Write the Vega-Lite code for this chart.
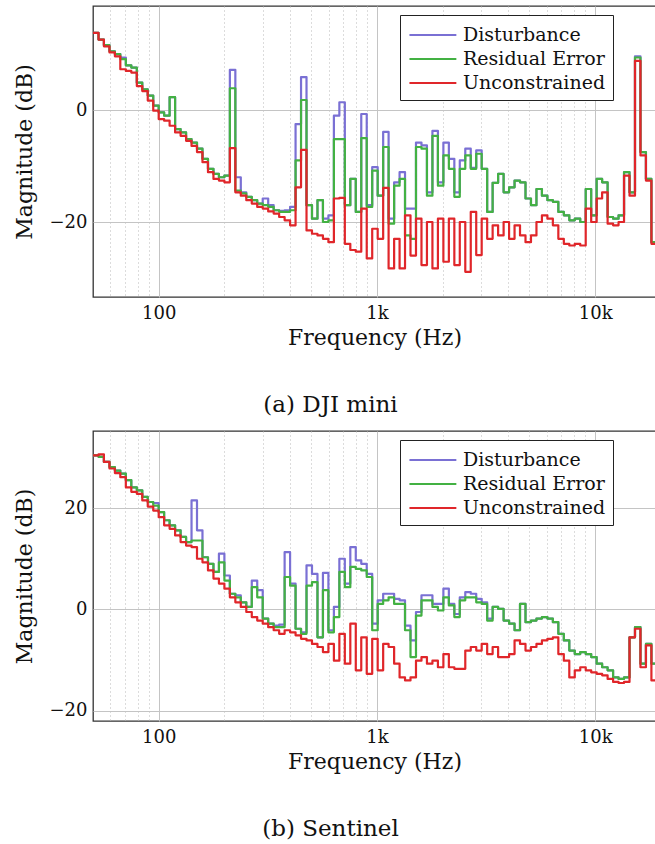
{
"$schema": "https://vega.github.io/schema/vega-lite/v6.json",
"padding": {"left": 12, "top": 5, "right": 0, "bottom": 0},
"spacing": 12,
"config": {
  "font": "DejaVu Serif",
  "view": {"stroke": "#333", "strokeWidth": 1.3},
  "axis": {"labelFont": "DejaVu Serif", "titleFont": "DejaVu Serif", "labelFontSize": 18, "titleFontSize": 22, "titleFontWeight": "normal", "labelColor": "#111", "titleColor": "#111", "ticks": false, "domain": false, "gridColor": "#c4c4c4", "gridWidth": 1},
  "legend": {"orient": "none", "legendX": 307, "legendY": 9, "title": null, "symbolType": "M-0.9,0H3.1", "symbolStrokeWidth": 2, "symbolSize": 550, "labelFont": "DejaVu Serif", "labelFontSize": 19, "labelColor": "#111", "strokeColor": "#222", "fillColor": "white", "padding": 7, "labelOffset": 30, "rowPadding": 1},
  "title": {"font": "DejaVu Serif", "fontSize": 23, "fontWeight": "normal", "color": "#111"}
},
"resolve": {"legend": {"color": "independent"}, "scale": {"y": "independent"}},
"datasets": {
"dji": [
{"f":50,"D":13.8,"R":13.8,"U":13.8},{"f":53,"D":12.6,"R":12.6,"U":12.6},{"f":56.1,"D":11.6,"R":11.6,"U":11.4},{"f":59.5,"D":10.5,"R":10.5,"U":10.3},{"f":63,"D":10,"R":10,"U":9.6},{"f":66.7,"D":9.4,"R":9.1,"U":7.3},{"f":70.7,"D":8,"R":8,"U":7},{"f":74.9,"D":7.6,"R":7.6,"U":6.7},{"f":79.4,"D":4.9,"R":4.9,"U":4.3},{"f":84.1,"D":3.7,"R":3.7,"U":3.4},{"f":89.1,"D":2.6,"R":2.6,"U":1.7},{"f":94.4,"D":0.8,"R":0.8,"U":-0.1},
{"f":100,"D":-0.4,"R":-0.4,"U":-1.6},{"f":105.9,"D":-1,"R":-1,"U":-1.9},{"f":112.2,"D":2.3,"R":2.3,"U":-2.8},{"f":118.9,"D":-3.4,"R":-3.4,"U":-4},{"f":126,"D":-4,"R":-4,"U":-4.6},{"f":133.5,"D":-5.2,"R":-5.2,"U":-5.5},{"f":141.4,"D":-5.8,"R":-5.8,"U":-6.4},{"f":149.8,"D":-6.9,"R":-6.9,"U":-7.5},{"f":158.7,"D":-8.7,"R":-8.7,"U":-9.3},{"f":168.2,"D":-10.5,"R":-10.5,"U":-11.1},{"f":178.2,"D":-11.4,"R":-11.4,"U":-12.3},{"f":188.8,"D":-12,"R":-12,"U":-12.6},
{"f":200,"D":-11.7,"R":-11.7,"U":-12.9},{"f":211.9,"D":7.2,"R":3.9,"U":-6.8},{"f":224.5,"D":-12,"R":-14.4,"U":-14.7},{"f":237.8,"D":-14.7,"R":-14.9,"U":-15.3},{"f":252,"D":-15.5,"R":-15.5,"U":-16.1},{"f":267,"D":-16.1,"R":-16.1,"U":-16.7},{"f":282.8,"D":-16.7,"R":-16.7,"U":-17.3},{"f":299.7,"D":-15.8,"R":-17,"U":-17.6},{"f":317.5,"D":-17,"R":-17.3,"U":-18.1},{"f":336.4,"D":-17.9,"R":-17.9,"U":-18.5},{"f":356.4,"D":-18,"R":-18.2,"U":-19.1},{"f":377.6,"D":-17.9,"R":-18.2,"U":-19.7},
{"f":400,"D":-17.3,"R":-17.9,"U":-20.6},{"f":423.8,"D":-2.5,"R":-9,"U":-13.8},{"f":449,"D":5.9,"R":1.8,"U":-7.1},{"f":475.7,"D":-17,"R":-17,"U":-21.5},{"f":504,"D":-19.4,"R":-19.4,"U":-22.1},{"f":534,"D":-16.1,"R":-16.1,"U":-22.4},{"f":565.7,"D":-19.4,"R":-20,"U":-23},{"f":599.3,"D":-18.8,"R":-19.7,"U":-23.6},{"f":635,"D":-1,"R":-5.2,"U":-15.8},{"f":672.7,"D":1.4,"R":-5.2,"U":-15.7},{"f":712.7,"D":-17,"R":-17,"U":-23.9},{"f":755.1,"D":-12.3,"R":-12.3,"U":-25},
{"f":800,"D":-18.2,"R":-18.2,"U":-25.3},{"f":847.6,"D":-0.7,"R":-5,"U":-17.6},{"f":898,"D":-17,"R":-17.3,"U":-26.5},{"f":951.4,"D":-10.2,"R":-10.8,"U":-21.2},{"f":1008,"D":-15.3,"R":-15.3,"U":-23},{"f":1068,"D":-3.9,"R":-6.6,"U":-13.9},{"f":1131,"D":-19.4,"R":-20.3,"U":-28.3},{"f":1199,"D":-12.9,"R":-13.5,"U":-23},{"f":1270,"D":-11.1,"R":-12.3,"U":-28.3},{"f":1345,"D":-17.6,"R":-22.4,"U":-18.8},{"f":1425,"D":-17.6,"R":-23,"U":-26},{"f":1510,"D":-5.8,"R":-6.6,"U":-19.4},
{"f":1600,"D":-6.3,"R":-6.9,"U":-27.7},{"f":1695,"D":-14.7,"R":-15.3,"U":-20},{"f":1796,"D":-3.7,"R":-4.6,"U":-28.3},{"f":1903,"D":-12.9,"R":-13.5,"U":-19.4},{"f":2016,"D":-5.8,"R":-8.1,"U":-27.1},{"f":2136,"D":-8.7,"R":-10.5,"U":-19.4},{"f":2263,"D":-14.7,"R":-15.5,"U":-27.7},{"f":2397,"D":-9,"R":-10.5,"U":-20},{"f":2540,"D":-6.9,"R":-8.1,"U":-28.9},{"f":2691,"D":-10.3,"R":-10.5,"U":-18.2},{"f":2851,"D":-7.2,"R":-7.8,"U":-25.9},{"f":3020,"D":-10.5,"R":-10.5,"U":-19.4},
{"f":3200,"D":-18.2,"R":-18.2,"U":-23},{"f":3390,"D":-13,"R":-13,"U":-20.6},{"f":3592,"D":-11.4,"R":-11.4,"U":-22.4},{"f":3806,"D":-14.7,"R":-14.7,"U":-20},{"f":4032,"D":-13.8,"R":-13.8,"U":-23},{"f":4272,"D":-12.6,"R":-12.6,"U":-20.6},{"f":4525,"D":-12.9,"R":-12.9,"U":-22.4},{"f":4795,"D":-15.8,"R":-15.8,"U":-23.6},{"f":5080,"D":-17,"R":-17,"U":-22.4},{"f":5382,"D":-14.1,"R":-14.1,"U":-20},{"f":5702,"D":-15.3,"R":-15.3,"U":-18.8},{"f":6041,"D":-16.1,"R":-16.1,"U":-19.4},
{"f":6400,"D":-16.4,"R":-16.4,"U":-20.6},{"f":6780,"D":-18.2,"R":-18.2,"U":-23},{"f":7184,"D":-18.8,"R":-18.8,"U":-23.9},{"f":7611,"D":-19.7,"R":-19.7,"U":-24.2},{"f":8063,"D":-19.4,"R":-19.4,"U":-23.9},{"f":8543,"D":-20,"R":-20,"U":-24.2},{"f":9051,"D":-14.1,"R":-14.1,"U":-17.6},{"f":9589,"D":-18.8,"R":-18.8,"U":-20},{"f":10159,"D":-12.3,"R":-12.3,"U":-15.8},{"f":10763,"D":-12.9,"R":-12.9,"U":-14.7},{"f":11404,"D":-19.1,"R":-19.1,"U":-20.3},{"f":12082,"D":-19.4,"R":-19.4,"U":-20.6},
{"f":12800,"D":-18.8,"R":-18.8,"U":-20},{"f":13561,"D":-11.1,"R":-11.1,"U":-11.7},{"f":14368,"D":-14.7,"R":-14.7,"U":-15.3},{"f":15222,"D":9.6,"R":9.4,"U":8.8},{"f":16127,"D":-7.5,"R":-7.5,"U":-8.1},{"f":17086,"D":-12.3,"R":-12.3,"U":-12.6},{"f":18102,"D":-23.6,"R":-23.6,"U":-23.9},{"f":19179,"D":-25,"R":-25,"U":-25.2},{"f":20319,"D":-25,"R":-25,"U":-25.2}
],
"sentinel": [
{"f":50,"D":30.4,"R":30.4,"U":30.4},{"f":53,"D":30.1,"R":30.1,"U":30.6},{"f":56.1,"D":29.1,"R":29.1,"U":29.1},{"f":59.5,"D":28.1,"R":28.1,"U":27.8},{"f":63,"D":27.4,"R":27.4,"U":26.9},{"f":66.7,"D":26.8,"R":26.8,"U":26.1},{"f":70.7,"D":25.5,"R":25.5,"U":24.1},{"f":74.9,"D":24.1,"R":24.1,"U":23.2},{"f":79.4,"D":23.5,"R":23.5,"U":22.8},{"f":84.1,"D":22.2,"R":22.2,"U":21.5},{"f":89.1,"D":21.2,"R":21.2,"U":20.3},{"f":94.4,"D":21,"R":20.5,"U":19.5},
{"f":100,"D":19.2,"R":19.2,"U":18.2},{"f":105.9,"D":17.6,"R":17.6,"U":16.6},{"f":112.2,"D":16.6,"R":16.6,"U":15.9},{"f":118.9,"D":15.6,"R":15.6,"U":14.6},{"f":126,"D":14.3,"R":14.3,"U":13.3},{"f":133.5,"D":13.3,"R":13.3,"U":12.6},{"f":141.4,"D":21.5,"R":13.6,"U":12.3},{"f":149.8,"D":15.6,"R":13.6,"U":10},{"f":158.7,"D":10.3,"R":10.3,"U":9.3},{"f":168.2,"D":9,"R":9,"U":7.7},{"f":178.2,"D":7.4,"R":7.4,"U":6.1},{"f":188.8,"D":11,"R":9.3,"U":5.1},
{"f":200,"D":6.7,"R":5.7,"U":4.1},{"f":211.9,"D":3.1,"R":3.1,"U":2.4},{"f":224.5,"D":2.8,"R":2.4,"U":1.4},{"f":237.8,"D":1.4,"R":1.4,"U":0.5},{"f":252,"D":0.5,"R":0.5,"U":-0.5},{"f":267,"D":5.7,"R":4.4,"U":-1.5},{"f":282.8,"D":3.8,"R":2.4,"U":-2.2},{"f":299.7,"D":-1.8,"R":-1.8,"U":-2.8},{"f":317.5,"D":-2.8,"R":-2.8,"U":-3.5},{"f":336.4,"D":-3.2,"R":-3.5,"U":-4.1},{"f":356.4,"D":-3,"R":-3.5,"U":-4.8},{"f":377.6,"D":11.3,"R":6.4,"U":-4.1},
{"f":400,"D":5.1,"R":4.7,"U":-4.5},{"f":423.8,"D":-3.8,"R":-3.8,"U":-5.1},{"f":449,"D":-4.5,"R":-4.8,"U":-5.8},{"f":475.7,"D":8.7,"R":4.7,"U":-6.1},{"f":504,"D":7,"R":5.4,"U":-6.8},{"f":534,"D":-5.5,"R":-5.5,"U":-7.4},{"f":565.7,"D":7.2,"R":3.8,"U":-8.4},{"f":599.3,"D":-4.1,"R":-4.5,"U":-6.8},{"f":635,"D":0.5,"R":-1.5,"U":-10.1},{"f":672.7,"D":10,"R":7.4,"U":-4.8},{"f":712.7,"D":5.1,"R":4.4,"U":-10.7},{"f":755.1,"D":12.3,"R":8.4,"U":-2.8},
{"f":800,"D":9.7,"R":8,"U":-12},{"f":847.6,"D":9,"R":7.7,"U":-5.5},{"f":898,"D":7,"R":6.4,"U":-12.7},{"f":951.4,"D":-2.8,"R":-4.1,"U":-5.8},{"f":1008,"D":1.8,"R":1.1,"U":-12},{"f":1068,"D":3.1,"R":1.8,"U":-6.8},{"f":1131,"D":3.1,"R":2.4,"U":-7.4},{"f":1199,"D":2.1,"R":1.1,"U":-10.7},{"f":1270,"D":1.8,"R":1.1,"U":-13.4},{"f":1345,"D":-3.2,"R":-4.1,"U":-14},{"f":1425,"D":-6.1,"R":-9.4,"U":-13.4},{"f":1510,"D":-0.5,"R":-1.2,"U":-10.1},
{"f":1600,"D":2.8,"R":1.8,"U":-9.4},{"f":1695,"D":2.8,"R":1.8,"U":-10.7},{"f":1796,"D":1.1,"R":0.5,"U":-10.1},{"f":1903,"D":1.1,"R":-0.2,"U":-11.4},{"f":2016,"D":4.1,"R":2.4,"U":-8.8},{"f":2136,"D":1.1,"R":0.8,"U":-11.4},{"f":2263,"D":-0.9,"R":-1.5,"U":-11.7},{"f":2397,"D":2.4,"R":1.8,"U":-11.7},{"f":2540,"D":3.4,"R":2.4,"U":-8.1},{"f":2691,"D":3.1,"R":2.4,"U":-7.4},{"f":2851,"D":2.1,"R":1.4,"U":-8.1},{"f":3020,"D":1.4,"R":1.1,"U":-6.8},
{"f":3200,"D":-1.8,"R":-2.2,"U":-8.8},{"f":3390,"D":0.5,"R":0.5,"U":-7.4},{"f":3592,"D":0.1,"R":0.1,"U":-9.4},{"f":3806,"D":-2.2,"R":-2.2,"U":-9.4},{"f":4032,"D":-2.8,"R":-2.8,"U":-8.8},{"f":4272,"D":-4.1,"R":-4.1,"U":-6.1},{"f":4525,"D":1.1,"R":1.1,"U":-6.8},{"f":4795,"D":-2.5,"R":-2.5,"U":-8.1},{"f":5080,"D":-2.2,"R":-2.2,"U":-7.4},{"f":5382,"D":-1.8,"R":-1.8,"U":-6.8},{"f":5702,"D":-1.5,"R":-1.5,"U":-6.1},{"f":6041,"D":-1.8,"R":-1.8,"U":-5.8},
{"f":6400,"D":-2.5,"R":-2.5,"U":-5.5},{"f":6780,"D":-4.8,"R":-4.8,"U":-8.8},{"f":7184,"D":-6.1,"R":-6.1,"U":-10.1},{"f":7611,"D":-8.1,"R":-8.1,"U":-13.4},{"f":8063,"D":-8.8,"R":-8.8,"U":-12},{"f":8543,"D":-8.4,"R":-8.4,"U":-11.4},{"f":9051,"D":-8.8,"R":-8.8,"U":-12},{"f":9589,"D":-9.4,"R":-9.4,"U":-12.4},{"f":10159,"D":-10.7,"R":-10.7,"U":-12.7},{"f":10763,"D":-11.4,"R":-11.4,"U":-13},{"f":11404,"D":-12,"R":-12,"U":-13.7},{"f":12082,"D":-13.4,"R":-13.4,"U":-14.3},
{"f":12800,"D":-13.7,"R":-13.7,"U":-14.5},{"f":13561,"D":-13.4,"R":-13.4,"U":-14.3},{"f":14368,"D":-5.5,"R":-5.5,"U":-5.5},{"f":15222,"D":-3.5,"R":-3.5,"U":-3.8},{"f":16127,"D":-10.7,"R":-10.7,"U":-11.4},{"f":17086,"D":-6.8,"R":-6.8,"U":-7.1},{"f":18102,"D":-10.7,"R":-10.7,"U":-14},{"f":19179,"D":-12,"R":-12,"U":-14},{"f":20319,"D":-12,"R":-12,"U":-14}
]
},
"vconcat": [
{
  "data": {"name": "dji"},
  "width": 563, "height": 291,
  "title": {"text": "(a) DJI mini", "orient": "bottom", "offset": 46, "anchor": "middle", "frame": "group", "dx": -44},
  "transform": [{"fold": ["D", "R", "U"], "as": ["series", "v"]}],
  "mark": {"type": "line", "interpolate": "step-after", "strokeWidth": 2.2, "clip": true, "strokeJoin": "round"},
  "encoding": {
    "x": {"field": "f", "type": "quantitative", "title": "Frequency (Hz)",
      "scale": {"type": "log", "domain": [50, 19000], "nice": false},
      "axis": {"values": [60,70,80,90,100,200,300,400,500,600,700,800,900,1000,2000,3000,4000,5000,6000,7000,8000,9000,10000],
        "labelExpr": "datum.value == 100 ? '100' : datum.value == 1000 ? '1k' : datum.value == 10000 ? '10k' : ''",
        "labelOverlap": false, "labelFlush": false, "labelPadding": 7, "titlePadding": 5,
        "gridDash": {"condition": {"test": "datum.value == 100 || datum.value == 1000 || datum.value == 10000", "value": []}, "value": [1, 3]},
        "gridColor": {"condition": {"test": "datum.value == 100 || datum.value == 1000 || datum.value == 10000", "value": "#c4c4c4"}, "value": "#b8b8b8"}}},
    "y": {"field": "v", "type": "quantitative", "title": "Magnitude (dB)",
      "scale": {"domain": [-33.4, 18.6], "nice": false, "zero": false},
      "axis": {"values": [-20, 0], "labelPadding": 6, "titlePadding": 13}},
    "color": {"field": "series", "type": "nominal", "scale": {"domain": ["D", "R", "U"], "range": ["#7a70d4", "#43b143", "#e0262a"]},
      "legend": {"labelExpr": "datum.label == 'D' ? 'Disturbance' : datum.label == 'R' ? 'Residual Error\u00a0\u00a0' : 'Unconstrained'"}}
  }
},
{
  "data": {"name": "sentinel"},
  "width": 563, "height": 290,
  "title": {"text": "(b) Sentinel", "orient": "bottom", "offset": 46, "anchor": "middle", "frame": "group", "dx": -44},
  "transform": [{"fold": ["D", "R", "U"], "as": ["series", "v"]}],
  "mark": {"type": "line", "interpolate": "step-after", "strokeWidth": 2.2, "clip": true, "strokeJoin": "round"},
  "encoding": {
    "x": {"field": "f", "type": "quantitative", "title": "Frequency (Hz)",
      "scale": {"type": "log", "domain": [50, 19000], "nice": false},
      "axis": {"values": [60,70,80,90,100,200,300,400,500,600,700,800,900,1000,2000,3000,4000,5000,6000,7000,8000,9000,10000],
        "labelExpr": "datum.value == 100 ? '100' : datum.value == 1000 ? '1k' : datum.value == 10000 ? '10k' : ''",
        "labelOverlap": false, "labelFlush": false, "labelPadding": 7, "titlePadding": 5,
        "gridDash": {"condition": {"test": "datum.value == 100 || datum.value == 1000 || datum.value == 10000", "value": []}, "value": [1, 3]},
        "gridColor": {"condition": {"test": "datum.value == 100 || datum.value == 1000 || datum.value == 10000", "value": "#c4c4c4"}, "value": "#b8b8b8"}}},
    "y": {"field": "v", "type": "quantitative", "title": "Magnitude (dB)",
      "scale": {"domain": [-22, 35.2], "nice": false, "zero": false},
      "axis": {"values": [-20, 0, 20], "labelPadding": 6, "titlePadding": 13}},
    "color": {"field": "series", "type": "nominal", "scale": {"domain": ["D", "R", "U"], "range": ["#7a70d4", "#43b143", "#e0262a"]},
      "legend": {"labelExpr": "datum.label == 'D' ? 'Disturbance' : datum.label == 'R' ? 'Residual Error\u00a0\u00a0' : 'Unconstrained'"}}
  }
}
]
}
